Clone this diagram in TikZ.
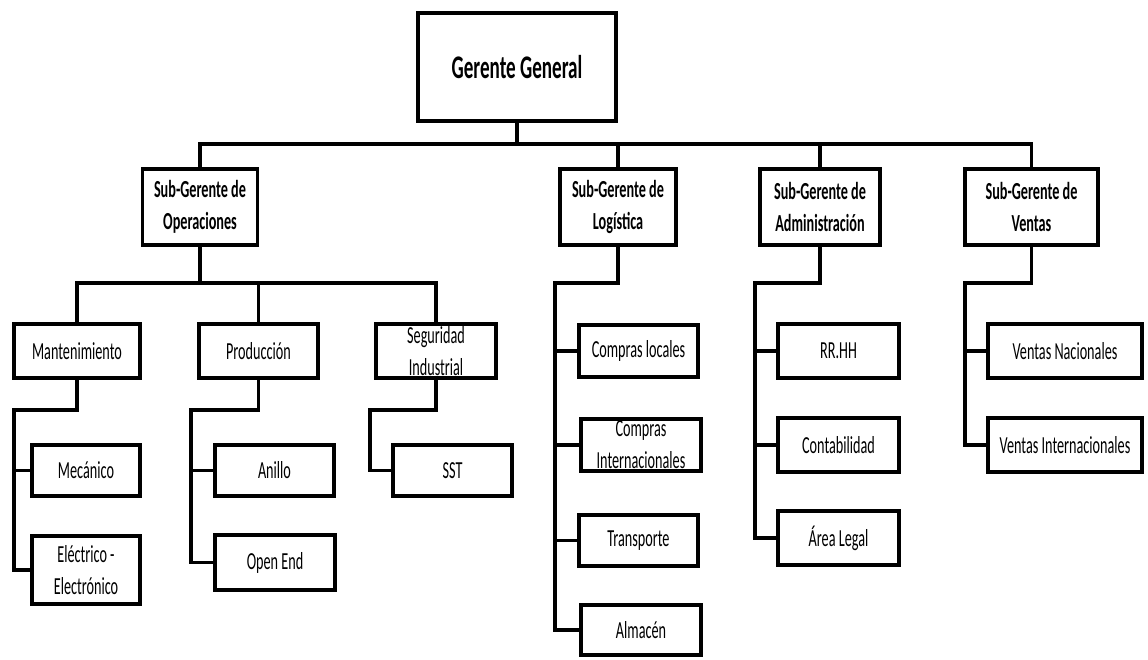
\documentclass[tikz,border=0pt]{standalone}
\usepackage{fontspec}
\setmainfont[FakeStretch=0.58]{Carlito}
\usetikzlibrary{positioning}

\newcommand{\orgfont}{\fontsize{24.5}{32}\selectfont}
\newcommand{\orgtitle}{\fontsize{33}{40}\selectfont\bfseries}

\begin{document}
\begin{tikzpicture}[
    x=1pt, y=-1pt,
    box/.style={
        draw,
        line width=3.8pt,
        align=center,
        inner sep=0pt,
        font=\orgfont
    },
    top/.style={box, font=\orgtitle, minimum width=198, minimum height=108},
    sub/.style={box, font=\orgfont\bfseries, minimum height=76},
    area/.style={box, minimum height=54},
    unit/.style={box, minimum height=51},
    conn/.style={line width=3.2pt}
]
\useasboundingbox (0,0) rectangle (1148,659);

% ============================================================
% GERENCIA Y SUB-GERENCIAS
% ============================================================
\node[top] (gg) at (517,67) {Gerente General};

\node[sub, minimum width=115] (op)  at (200,207)   {Sub-Gerente de\\Operaciones};
\node[sub, minimum width=116] (log) at (618,207)   {Sub-Gerente de\\Logística};
\node[sub, minimum width=120] (adm) at (820,207)   {Sub-Gerente de\\Administración};
\node[sub, minimum width=133] (ven) at (1031.5,207) {Sub-Gerente de\\Ventas};

\coordinate (bus) at (517,144);
\draw[conn] (gg.south) -- (bus);
\foreach \s in {op,log,adm,ven}
    \draw[conn] (bus) -| (\s.north);

% ============================================================
% OPERACIONES
% ============================================================
\node[area, minimum width=126] (mant) at (77,351)    {Mantenimiento};
\node[area, minimum width=119] (prod) at (258.5,351) {Producción};
\node[area, minimum width=120] (seg)  at (436,351)   {Seguridad\\Industrial};

\coordinate (opbus) at (200,283);
\draw[conn] (op.south) -- (opbus);
\foreach \s in {mant,prod,seg}
    \draw[conn] (opbus) -| (\s.north);

\node[unit, minimum width=108] (mec)  at (86,470.5)  {Mecánico};
\node[box, minimum width=108, minimum height=68] (elec) at (86,570) {Eléctrico -\\Electrónico};
\node[unit, minimum width=119] (ani)  at (274.5,470.5) {Anillo};
\node[box, minimum width=120, minimum height=55] (open) at (275,562.5) {Open End};
\node[unit, minimum width=119] (sst)  at (452.5,470.5) {SST};

\coordinate (manttk) at (14,410);
\coordinate (prodtk) at (191,410);
\coordinate (segtk)  at (370,410);
\draw[conn] (mant.south) |- (manttk) |- (elec.west);
\draw[conn] (manttk) |- (mec.west);
\draw[conn] (prod.south) |- (prodtk) |- (open.west);
\draw[conn] (prodtk) |- (ani.west);
\draw[conn] (seg.south) |- (segtk) |- (sst.west);

% ============================================================
% LOGÍSTICA
% ============================================================
\node[box, minimum width=119, minimum height=52] (cloc)  at (638.5,351) {Compras locales};
\node[box, minimum width=120, minimum height=52] (cint)  at (641,445)   {Compras\\Internacionales};
\node[unit, minimum width=119] (trans) at (638.5,540.5) {Transporte};
\node[box, minimum width=120, minimum height=50] (alm)   at (641,630)   {Almacén};

\coordinate (logtk) at (555,283);
\draw[conn] (log.south) |- (logtk) |- (alm.west);
\foreach \s in {cloc,cint,trans}
    \draw[conn] (logtk) |- (\s.west);

% ============================================================
% ADMINISTRACIÓN
% ============================================================
\node[area, minimum width=121] (rrhh)  at (838.5,351) {RR.HH};
\node[area, minimum width=121] (cont)  at (838.5,445) {Contabilidad};
\node[area, minimum width=121] (legal) at (838.5,538) {Área Legal};

\coordinate (admtk) at (755,283);
\draw[conn] (adm.south) |- (admtk) |- (legal.west);
\foreach \s in {rrhh,cont}
    \draw[conn] (admtk) |- (\s.west);

% ============================================================
% VENTAS
% ============================================================
\node[area, minimum width=154] (vnac) at (1065,351) {Ventas Nacionales};
\node[area, minimum width=154] (vint) at (1065,445) {Ventas Internacionales};

\coordinate (ventk) at (965,283);
\draw[conn] (ven.south) |- (ventk) |- (vint.west);
\draw[conn] (ventk) |- (vnac.west);

\end{tikzpicture}
\end{document}
